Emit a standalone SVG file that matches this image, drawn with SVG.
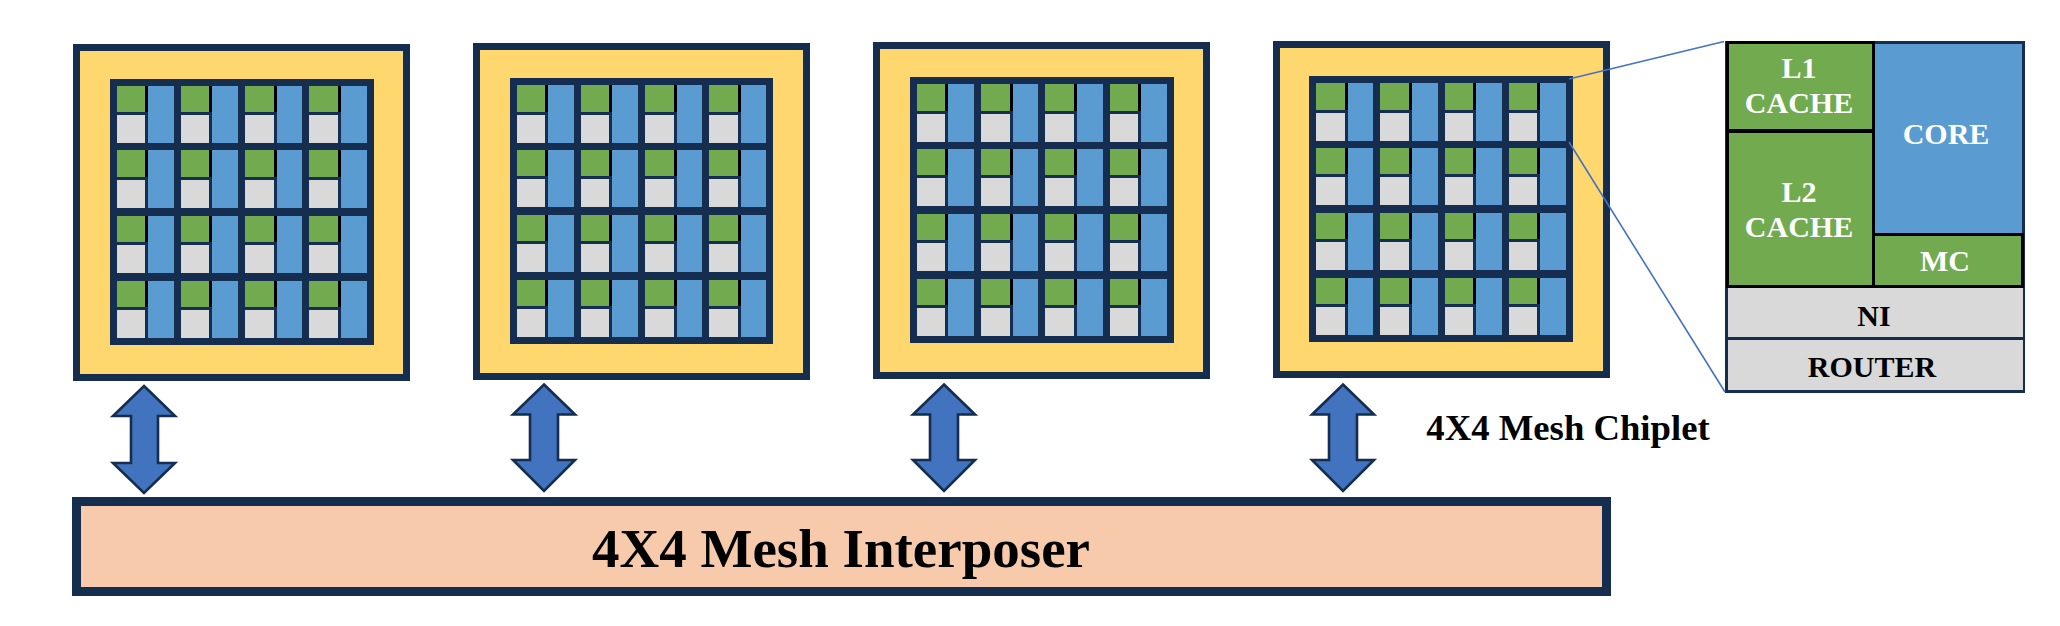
<svg xmlns="http://www.w3.org/2000/svg" width="2060" height="626" viewBox="0 0 2060 626">
<style>
.o{fill:#ffd76f;stroke:#152d4f;stroke-width:7}
.m{fill:#152d4f}
.g{fill:#72aa50}
.y{fill:#d9d9d9}
.b{fill:#5a9bd2}
.k{fill:#000}
.a{fill:#4173bf;stroke:#152d4f;stroke-width:2.6}
.l{fill:none;stroke:#4472c4;stroke-width:1.6}
text{font-family:"Liberation Serif","Times New Roman",serif;font-weight:bold;text-anchor:middle}
.w{fill:#fff;font-size:30px}
.d{fill:#000;font-size:30px}
</style>
<rect width="2060" height="626" fill="#fff"/>
<g id="chip1">
<rect class="o" x="76.5" y="47.5" width="330" height="330"/>
<rect class="m" x="110" y="79" width="264" height="266"/>
<path class="g" d="M117 86h28v26h-28zM181 86h28v26h-28zM245 86h29v26h-29zM309 86h29v26h-29zM117 150h28v27h-28zM181 150h28v27h-28zM245 150h29v27h-29zM309 150h29v27h-29zM117 216h28v26h-28zM181 216h28v26h-28zM245 216h29v26h-29zM309 216h29v26h-29zM117 281h28v26h-28zM181 281h28v26h-28zM245 281h29v26h-29zM309 281h29v26h-29z"/>
<path class="k" d="M145 86h3v26h-3zM209 86h3v26h-3zM274 86h3v26h-3zM338 86h3v26h-3zM145 150h3v27h-3zM209 150h3v27h-3zM274 150h3v27h-3zM338 150h3v27h-3zM145 216h3v26h-3zM209 216h3v26h-3zM274 216h3v26h-3zM338 216h3v26h-3zM145 281h3v26h-3zM209 281h3v26h-3zM274 281h3v26h-3zM338 281h3v26h-3z"/>
<path class="y" d="M117 115h28v28h-28zM181 115h28v28h-28zM245 115h29v28h-29zM309 115h29v28h-29zM117 180h28v28h-28zM181 180h28v28h-28zM245 180h29v28h-29zM309 180h29v28h-29zM117 245h28v28h-28zM181 245h28v28h-28zM245 245h29v28h-29zM309 245h29v28h-29zM117 310h28v28h-28zM181 310h28v28h-28zM245 310h29v28h-29zM309 310h29v28h-29z"/>
<path class="b" d="M148 86h26v57h-26zM212 86h26v57h-26zM277 86h25v57h-25zM341 86h26v57h-26zM148 150h26v58h-26zM212 150h26v58h-26zM277 150h25v58h-25zM341 150h26v58h-26zM148 216h26v57h-26zM212 216h26v57h-26zM277 216h25v57h-25zM341 216h26v57h-26zM148 281h26v57h-26zM212 281h26v57h-26zM277 281h25v57h-25zM341 281h26v57h-26z"/>
</g>
<g id="chip2">
<rect class="o" x="476.5" y="46.5" width="330" height="330"/>
<rect class="m" x="510" y="78" width="263" height="266"/>
<path class="g" d="M517 85h28v27h-28zM581 85h28v27h-28zM645 85h29v27h-29zM709 85h29v27h-29zM517 150h28v26h-28zM581 150h28v26h-28zM645 150h29v26h-29zM709 150h29v26h-29zM517 215h28v26h-28zM581 215h28v26h-28zM645 215h29v26h-29zM709 215h29v26h-29zM517 280h28v26h-28zM581 280h28v26h-28zM645 280h29v26h-29zM709 280h29v26h-29z"/>
<path class="k" d="M545 85h3v27h-3zM609 85h3v27h-3zM674 85h3v27h-3zM738 85h3v27h-3zM545 150h3v26h-3zM609 150h3v26h-3zM674 150h3v26h-3zM738 150h3v26h-3zM545 215h3v26h-3zM609 215h3v26h-3zM674 215h3v26h-3zM738 215h3v26h-3zM545 280h3v26h-3zM609 280h3v26h-3zM674 280h3v26h-3zM738 280h3v26h-3z"/>
<path class="y" d="M517 115h28v28h-28zM581 115h28v28h-28zM645 115h29v28h-29zM709 115h29v28h-29zM517 179h28v28h-28zM581 179h28v28h-28zM645 179h29v28h-29zM709 179h29v28h-29zM517 244h28v28h-28zM581 244h28v28h-28zM645 244h29v28h-29zM709 244h29v28h-29zM517 309h28v28h-28zM581 309h28v28h-28zM645 309h29v28h-29zM709 309h29v28h-29z"/>
<path class="b" d="M548 85h26v58h-26zM612 85h26v58h-26zM677 85h25v58h-25zM741 85h25v58h-25zM548 150h26v57h-26zM612 150h26v57h-26zM677 150h25v57h-25zM741 150h25v57h-25zM548 215h26v57h-26zM612 215h26v57h-26zM677 215h25v57h-25zM741 215h25v57h-25zM548 280h26v57h-26zM612 280h26v57h-26zM677 280h25v57h-25zM741 280h25v57h-25z"/>
</g>
<g id="chip3">
<rect class="o" x="876.5" y="45.5" width="330" height="330"/>
<rect class="m" x="910" y="77" width="264" height="266"/>
<path class="g" d="M917 84h28v27h-28zM981 84h29v27h-29zM1045 84h29v27h-29zM1110 84h28v27h-28zM917 149h28v26h-28zM981 149h29v26h-29zM1045 149h29v26h-29zM1110 149h28v26h-28zM917 214h28v26h-28zM981 214h29v26h-29zM1045 214h29v26h-29zM1110 214h28v26h-28zM917 279h28v26h-28zM981 279h29v26h-29zM1045 279h29v26h-29zM1110 279h28v26h-28z"/>
<path class="k" d="M945 84h3v27h-3zM1010 84h3v27h-3zM1074 84h3v27h-3zM1138 84h3v27h-3zM945 149h3v26h-3zM1010 149h3v26h-3zM1074 149h3v26h-3zM1138 149h3v26h-3zM945 214h3v26h-3zM1010 214h3v26h-3zM1074 214h3v26h-3zM1138 214h3v26h-3zM945 279h3v26h-3zM1010 279h3v26h-3zM1074 279h3v26h-3zM1138 279h3v26h-3z"/>
<path class="y" d="M917 114h28v28h-28zM981 114h29v28h-29zM1045 114h29v28h-29zM1110 114h28v28h-28zM917 178h28v28h-28zM981 178h29v28h-29zM1045 178h29v28h-29zM1110 178h28v28h-28zM917 243h28v28h-28zM981 243h29v28h-29zM1045 243h29v28h-29zM1110 243h28v28h-28zM917 308h28v28h-28zM981 308h29v28h-29zM1045 308h29v28h-29zM1110 308h28v28h-28z"/>
<path class="b" d="M948 84h26v58h-26zM1013 84h25v58h-25zM1077 84h26v58h-26zM1141 84h26v58h-26zM948 149h26v57h-26zM1013 149h25v57h-25zM1077 149h26v57h-26zM1141 149h26v57h-26zM948 214h26v57h-26zM1013 214h25v57h-25zM1077 214h26v57h-26zM1141 214h26v57h-26zM948 279h26v57h-26zM1013 279h25v57h-25zM1077 279h26v57h-26zM1141 279h26v57h-26z"/>
</g>
<g id="chip4">
<rect class="o" x="1276.5" y="44.5" width="330" height="330"/>
<rect class="m" x="1309" y="76" width="264" height="266"/>
<path class="g" d="M1316 83h29v27h-29zM1380 83h29v27h-29zM1445 83h28v27h-28zM1509 83h28v27h-28zM1316 148h29v26h-29zM1380 148h29v26h-29zM1445 148h28v26h-28zM1509 148h28v26h-28zM1316 213h29v26h-29zM1380 213h29v26h-29zM1445 213h28v26h-28zM1509 213h28v26h-28zM1316 278h29v26h-29zM1380 278h29v26h-29zM1445 278h28v26h-28zM1509 278h28v26h-28z"/>
<path class="k" d="M1345 83h3v27h-3zM1409 83h3v27h-3zM1473 83h3v27h-3zM1537 83h3v27h-3zM1345 148h3v26h-3zM1409 148h3v26h-3zM1473 148h3v26h-3zM1537 148h3v26h-3zM1345 213h3v26h-3zM1409 213h3v26h-3zM1473 213h3v26h-3zM1537 213h3v26h-3zM1345 278h3v26h-3zM1409 278h3v26h-3zM1473 278h3v26h-3zM1537 278h3v26h-3z"/>
<path class="y" d="M1316 113h29v28h-29zM1380 113h29v28h-29zM1445 113h28v28h-28zM1509 113h28v28h-28zM1316 177h29v28h-29zM1380 177h29v28h-29zM1445 177h28v28h-28zM1509 177h28v28h-28zM1316 242h29v28h-29zM1380 242h29v28h-29zM1445 242h28v28h-28zM1509 242h28v28h-28zM1316 307h29v28h-29zM1380 307h29v28h-29zM1445 307h28v28h-28zM1509 307h28v28h-28z"/>
<path class="b" d="M1348 83h25v58h-25zM1412 83h26v58h-26zM1476 83h26v58h-26zM1540 83h26v58h-26zM1348 148h25v57h-25zM1412 148h26v57h-26zM1476 148h26v57h-26zM1540 148h26v57h-26zM1348 213h25v57h-25zM1412 213h26v57h-26zM1476 213h26v57h-26zM1540 213h26v57h-26zM1348 278h25v57h-25zM1412 278h26v57h-26zM1476 278h26v57h-26zM1540 278h26v57h-26z"/>
</g>
<g id="interposer">
<rect x="72" y="497" width="1539" height="99" fill="#152d4f"/>
<rect x="81" y="506" width="1521" height="81" fill="#f7caac"/>
<text x="841" y="567" font-size="55px">4X4 Mesh Interposer</text>
</g>
<text id="chiplet-label" x="1568" y="440" font-size="36.7px">4X4 Mesh Chiplet</text>
<g id="detail">
<rect x="1725" y="41" width="300" height="352" fill="#152d4f"/>
<rect class="b" x="1875" y="44" width="147" height="189"/>
<g id="l1-l2-mc"><rect class="k" x="1726" y="41" width="149" height="247"/><rect class="k" x="1872" y="233" width="152" height="55"/>
<rect class="g" x="1729" y="44" width="143" height="85"/>
<rect class="g" x="1729" y="133" width="143" height="152"/>
<rect class="g" x="1875" y="236" width="146" height="49"/></g>
<rect class="y" x="1728" y="288" width="295" height="49"/>
<rect class="y" x="1728" y="340" width="295" height="50"/>
<text class="w" x="1799" y="78">L1</text>
<text class="w" x="1799" y="113">CACHE</text>
<text class="w" x="1799" y="202">L2</text>
<text class="w" x="1799" y="237">CACHE</text>
<text class="w" x="1946" y="144">CORE</text>
<text class="w" x="1945" y="271">MC</text>
<text class="d" x="1874" y="326">NI</text>
<text class="d" x="1872" y="377">ROUTER</text>
</g>
<g id="connectors">
<path class="l" d="M1569 79L1724 41.5M1569 142L1725 392"/>
<path class="a" d="M144 386L175 416H158V463H175L144 493L113 463H131V416H113Z"/>
<path class="a" d="M544 384.5L575 414.5H558V460H575L544 491L513 460H530V414.5H513Z"/>
<path class="a" d="M944 384.5L975 414.5H958V460H975L944 491L913 460H930V414.5H913Z"/>
<path class="a" d="M1343 384.5L1374 414.5H1357V460H1374L1343 491L1312 460H1329V414.5H1312Z"/>
</g>
</svg>
